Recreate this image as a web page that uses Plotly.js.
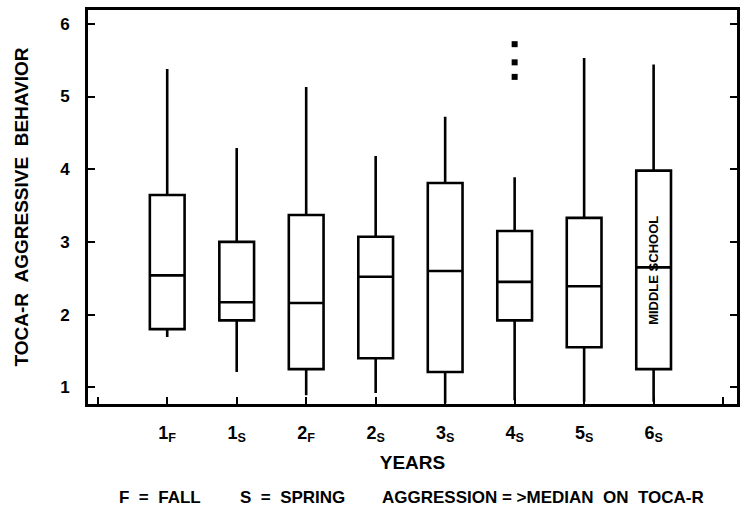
<!DOCTYPE html>
<html>
<head>
<meta charset="utf-8">
<script src="https://cdn.plot.ly/plotly-3.0.1.min.js"></script>
<style>html,body{margin:0;padding:0;background:#fff;}#chart{width:744px;height:517px;}</style>
</head>
<body>
<div id="chart"></div>
<script>
// Categories (year + season) and box statistics
const categories = ["1<sub>F</sub>", "1<sub>S</sub>", "2<sub>F</sub>", "2<sub>S</sub>", "3<sub>S</sub>", "4<sub>S</sub>", "5<sub>S</sub>", "6<sub>S</sub>"];
const lowerWhisker = [1.69, 1.21, 0.89, 0.92, 0.78, 0.82, 0.80, 0.80];
const q1Values     = [1.80, 1.92, 1.25, 1.40, 1.21, 1.92, 1.55, 1.25];
const medianValues = [2.54, 2.17, 2.16, 2.52, 2.60, 2.45, 2.39, 2.65];
const q3Values     = [3.645, 3.00, 3.37, 3.07, 3.81, 3.15, 3.33, 3.98];
const upperWhisker = [5.38, 4.29, 5.13, 4.18, 4.72, 3.89, 5.53, 5.44];
const outlierCategory = "4<sub>S</sub>";
const outlierValues = [5.72, 5.47, 5.27];
const yTicks = [1, 2, 3, 4, 5, 6];

const xPos = categories.map((c, i) => i + 1);
const outX = outlierValues.map(() => categories.indexOf(outlierCategory) + 1);

const font = "Liberation Sans, Arial, sans-serif";
const sp = "&nbsp;";

const traces = [
  {
    type: "box",
    x: xPos,
    q1: q1Values,
    median: medianValues,
    q3: q3Values,
    lowerfence: lowerWhisker,
    upperfence: upperWhisker,
    width: 0.5,
    whiskerwidth: 0,
    fillcolor: "#ffffff",
    line: { color: "#000000", width: 2.6 },
    boxpoints: false,
    hoverinfo: "skip",
    showlegend: false
  },
  {
    type: "scatter",
    mode: "markers",
    x: outX,
    y: outlierValues,
    marker: { symbol: "square", size: 6, color: "#000000" },
    showlegend: false,
    hoverinfo: "skip"
  }
];

const layout = {
  width: 744,
  height: 517,
  margin: { l: 88, r: 7, t: 10, b: 113 },
  paper_bgcolor: "#ffffff",
  plot_bgcolor: "#ffffff",
  font: { family: font, color: "#000000", size: 16, weight: "bold" },
  showlegend: false,
  xaxis: {
    range: [-0.14, 9.2],
    tickmode: "array",
    tickvals: [0].concat(xPos, [categories.length + 1]),
    ticktext: [""].concat(categories, [""]),
    ticks: "inside",
    ticklen: 7,
    tickwidth: 2,
    tickcolor: "#000",
    showline: true,
    linecolor: "#000",
    linewidth: 3,
    mirror: true,
    showgrid: false,
    zeroline: false,
    ticklabelstandoff: 10,
    tickfont: { family: font, size: 18, weight: "bold" },
    title: { text: "YEARS", font: { family: font, size: 19, weight: "bold" }, standoff: 12 }
  },
  yaxis: {
    range: [0.77, 6.19],
    tickmode: "array",
    tickvals: yTicks,
    ticktext: yTicks.map(String),
    ticks: "inside",
    ticklen: 7,
    tickwidth: 2,
    tickcolor: "#000",
    showline: true,
    linecolor: "#000",
    linewidth: 3,
    mirror: "allticks",
    showgrid: false,
    zeroline: false,
    ticklabelstandoff: 12,
    tickfont: { family: font, size: 17, weight: "bold" },
    title: { text: "TOCA-R" + sp + sp + "AGGRESSIVE" + sp + sp + "BEHAVIOR", font: { family: font, size: 19, weight: "bold" }, standoff: 27 }
  },
  annotations: [
    {
      x: 8, y: 2.61, xref: "x", yref: "y",
      text: "MIDDLE" + sp + "SCHOOL", textangle: -90, showarrow: false,
      font: { family: font, size: 13, weight: "bold" }
    },
    {
      x: (117 - 88) / 649, y: -0.237, xref: "paper", yref: "paper", xanchor: "left", yanchor: "middle",
      text: "F" + sp + sp + "=" + sp + sp + "FALL", showarrow: false, font: { family: font, size: 17, weight: "bold" }
    },
    {
      x: (238 - 88) / 649, y: -0.237, xref: "paper", yref: "paper", xanchor: "left", yanchor: "middle",
      text: "S" + sp + sp + "=" + sp + sp + "SPRING", showarrow: false, font: { family: font, size: 17, weight: "bold" }
    },
    {
      x: (380 - 88) / 649, y: -0.237, xref: "paper", yref: "paper", xanchor: "left", yanchor: "middle",
      text: "AGGRESSION" + sp + "=" + sp + ">MEDIAN" + sp + sp + "ON" + sp + sp + "TOCA-R", showarrow: false, font: { family: font, size: 17, weight: "bold" }
    }
  ]
};

Plotly.newPlot("chart", traces, layout, { displayModeBar: false, staticPlot: true });
</script>
</body>
</html>
